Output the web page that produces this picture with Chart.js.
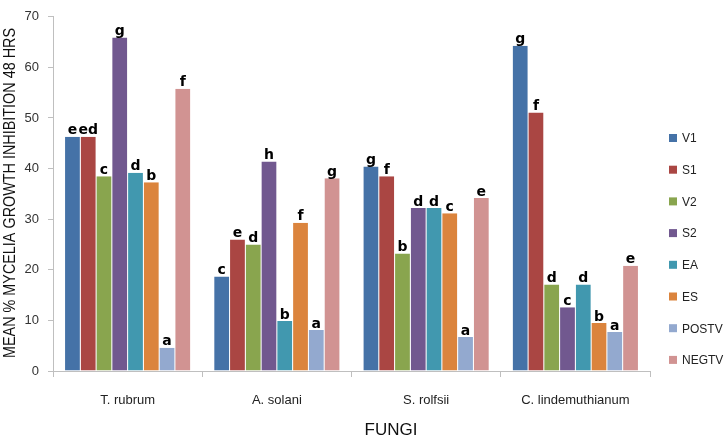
<!DOCTYPE html>
<html><head><meta charset="utf-8">
<script src="https://cdn.jsdelivr.net/npm/chart.js@4.4.1/dist/chart.umd.min.js"></script>
<style>html,body{margin:0;padding:0;background:#fff}#wrap{width:728px;height:442px}</style>
</head><body><div id="wrap"><canvas id="c" width="728" height="442"></canvas></div>
<script>
const categories = ["T. rubrum", "A. solani", "S. rolfsii", "C. lindemuthianum"];
const seriesNames = ["V1","S1","V2","S2","EA","ES","POSTV","NEGTV"];
const V1 = [46.3, 18.7, 40.4, 64.3];
const S1 = [46.3, 26.0, 38.5, 51.1];
const V2 = [38.5, 25.0, 23.2, 17.1];
const S2 = [65.9, 41.4, 32.2, 12.6];
const EA = [39.2, 9.9, 32.2, 17.1];
const ES = [37.3, 29.3, 31.2, 9.5];
const POSTV = [4.6, 8.1, 6.7, 7.7];
const NEGTV = [55.8, 38.1, 34.2, 20.8];
const lettersV1 = ["e","c","g","g"];
const lettersS1 = ["ed","e","f","f"];
const lettersV2 = ["c","d","b","d"];
const lettersS2 = ["g","h","d","c"];
const lettersEA = ["d","b","d","d"];
const lettersES = ["b","f","c","b"];
const lettersPOSTV = ["a","a","a","a"];
const lettersNEGTV = ["f","g","e","e"];
const yTicks = [0,10,20,30,40,50,60,70];
const yTitle = "MEAN % MYCELIA GROWTH INHIBITION 48 HRS";
const xTitle = "FUNGI";

const values = [V1,S1,V2,S2,EA,ES,POSTV,NEGTV];
const letters = [lettersV1,lettersS1,lettersV2,lettersS2,lettersEA,lettersES,lettersPOSTV,lettersNEGTV];
const colors = ["#4572A7","#AA4643","#89A54E","#71588F","#4198AF","#DB843D","#93A9CF","#D19392"];

const letterPlugin = {
  id: 'letters',
  afterDatasetsDraw(chart) {
    const ctx = chart.ctx;
    ctx.save();
    ctx.font = 'bold 14px "DejaVu Sans"';
    ctx.fillStyle = '#000';
    ctx.textAlign = 'center';
    ctx.textBaseline = 'bottom';
    chart.data.datasets.forEach((ds, i) => {
      chart.getDatasetMeta(i).data.forEach((bar, j) => {
        ctx.fillText(letters[i][j], bar.x, bar.y + 1);
      });
    });
    ctx.restore();
  }
};
const annotPlugin = {
  id: 'annot',
  afterDraw(chart) {
    const ctx = chart.ctx;
    ctx.save();
    ctx.font = '12px "Liberation Sans"';
    ctx.textBaseline = 'middle';
    ctx.textAlign = 'left';
    chart.data.datasets.forEach((ds, i) => {
      const y = 138 + i * 31.7;
      ctx.fillStyle = ds.backgroundColor;
      ctx.fillRect(669, y - 4, 8, 8);
      ctx.fillStyle = '#222';
      ctx.fillText(ds.label, 682, y + 1);
    });
    ctx.font = '17px "Liberation Sans"';
    ctx.textAlign = 'center';
    ctx.fillStyle = '#111';
    ctx.fillText(xTitle, 391, 430);
    ctx.translate(11, 193);
    ctx.rotate(-Math.PI / 2);
    ctx.font = '16px "Liberation Sans"';
    const w = ctx.measureText(yTitle).width;
    ctx.scale(330 / w, 1);
    ctx.fillText(yTitle, 0, 0);
    ctx.restore();
  }
};

new Chart(document.getElementById('c'), {
  type: 'bar',
  data: {
    labels: categories,
    datasets: seriesNames.map((n, i) => ({
      label: n, data: values[i], backgroundColor: colors[i],
      borderColor: 'rgba(255,255,255,0.5)', borderWidth: {left:0.5,right:0.5,top:0,bottom:0},
      categoryPercentage: 0.845, barPercentage: 1.0
    }))
  },
  options: {
    responsive: false, animation: false,
    layout: { padding: { top: 11, right: 78, left: 0, bottom: 0 } },
    plugins: { legend: { display: false }, tooltip: { enabled: false } },
    scales: {
      x: {
        grid: { display: true, drawOnChartArea: false, offset: true, tickLength: 6, color: '#bfbfbf' },
        border: { color: '#bfbfbf' },
        ticks: { font: { family: 'Liberation Sans', size: 13 }, color: '#222', padding: 16 },
        afterFit(s) { s.height = 71; }
      },
      y: {
        min: 0, max: 70,
        afterBuildTicks(s) { s.ticks = yTicks.map(v => ({ value: v })); },
        grid: { display: true, drawOnChartArea: false, tickLength: 5, color: '#bfbfbf' },
        border: { color: '#bfbfbf' },
        ticks: { font: { family: 'Liberation Sans', size: 13 }, color: '#333', padding: 9 },
        afterFit(s) { s.width = 53; }
      }
    }
  },
  plugins: [letterPlugin, annotPlugin]
});
</script></body></html>
